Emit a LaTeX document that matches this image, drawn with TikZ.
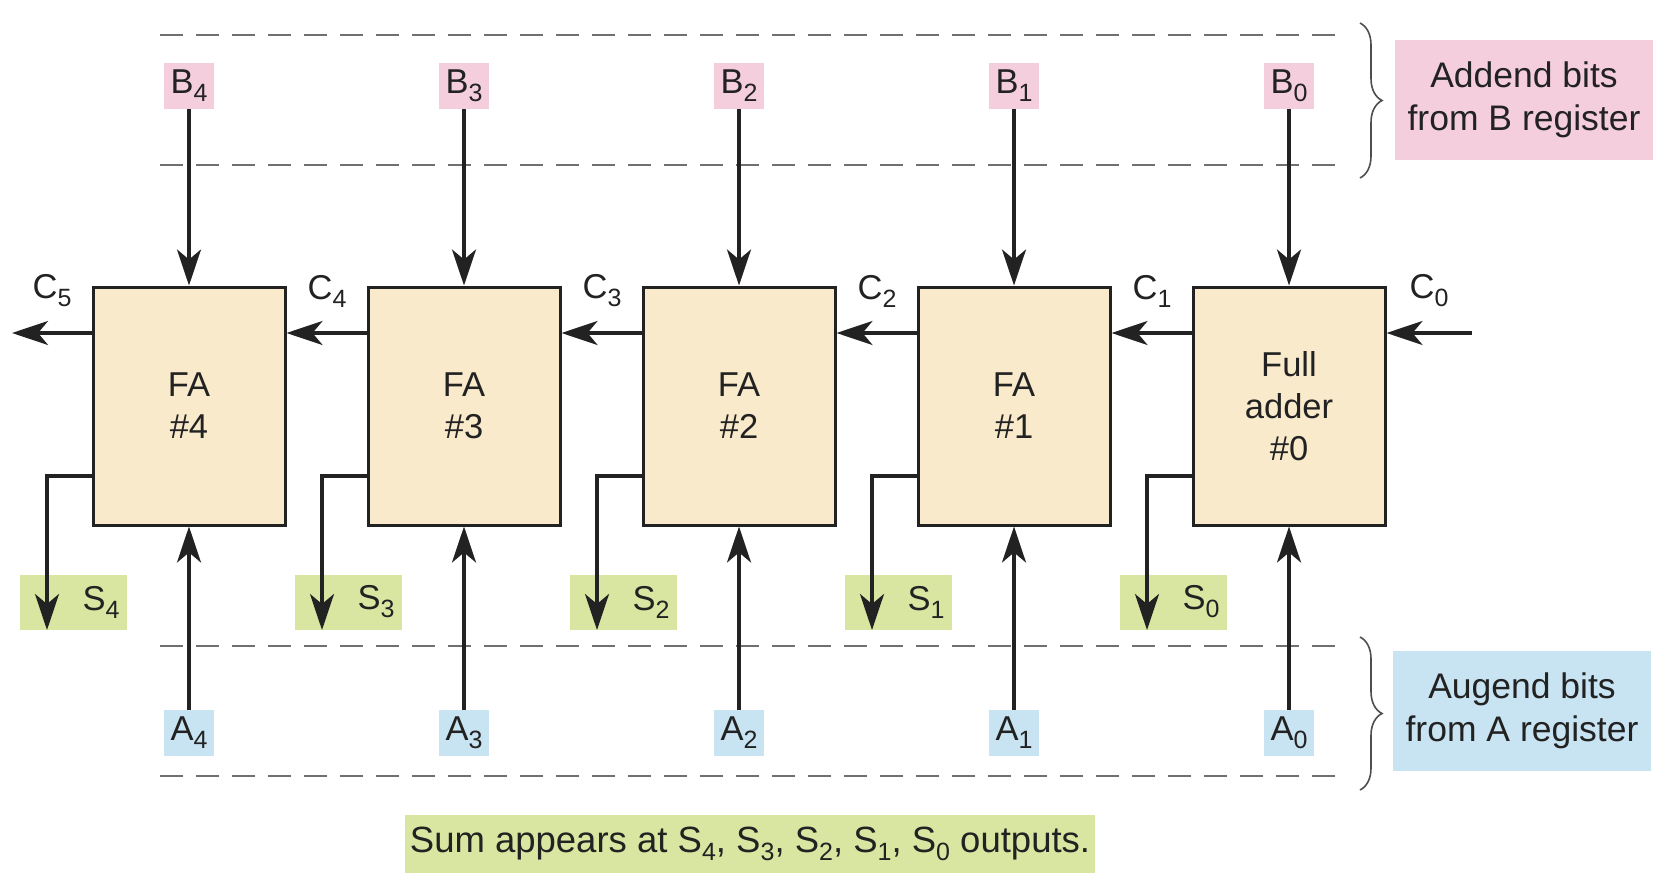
\documentclass[tikz,border=0pt]{standalone}
\usepackage{fontspec}
\setmainfont{Liberation Sans}
\usetikzlibrary{arrows.meta,decorations.pathreplacing,calc}
\definecolor{cream}{HTML}{F8EACB}
\definecolor{pinkbg}{HTML}{F5CEDD}
\definecolor{bluebg}{HTML}{C8E3F1}
\definecolor{greenbg}{HTML}{D8E6A2}
\definecolor{ink}{HTML}{222222}
\definecolor{dashgray}{HTML}{707070}
\newcommand\lowsub[1]{\raisebox{-8pt}{\fontsize{25}{25}\selectfont #1}}
\begin{document}
\begin{tikzpicture}[x=1pt,y=-1pt,
  font=\fontsize{34.5}{42}\selectfont, text=ink,
  fabox/.style={draw=ink, line width=3pt, fill=cream, minimum width=192pt, minimum height=238pt, align=center, inner sep=0pt},
  blab/.style={fill=pinkbg, minimum width=50pt, minimum height=46pt, inner sep=0pt},
  alab/.style={fill=bluebg, minimum width=50pt, minimum height=46pt, inner sep=0pt},
  slab/.style={fill=greenbg, minimum width=107pt, minimum height=55pt, inner sep=0pt},
  clab/.style={inner sep=0pt},
  infobox/.style={minimum width=258pt, minimum height=120pt, align=center, inner sep=0pt, font=\fontsize{35.5}{43}\selectfont},
  arr/.style={draw=ink, line width=3.5pt, -{Stealth[length=36pt,width=24pt,inset=10pt]}},
  dashline/.style={draw=dashgray, line width=2pt, dash pattern=on 23pt off 13pt},
  bracestyle/.style={draw=ink!80, line width=1.6pt, decorate, decoration={brace, amplitude=22pt, aspect=0.5}}
]
\useasboundingbox (0,0) rectangle (1670,888);

% dashed register boundaries
\draw[dashline] (160,35) -- (1345,35);
\draw[dashline] (160,165) -- (1345,165);
\draw[dashline] (160,646) -- (1345,646);
\draw[dashline] (160,776) -- (1345,776);

% full adder boxes
\foreach \i/\L in {4/93,3/368,2/643,1/918}{
  \node[fabox] (fa\i) at (\L+96,406) {FA\\\#\i};
}
\node[fabox] (fa0) at (1193+96,406) {Full\\adder\\\#0};

% labels
\foreach \i/\L in {4/93,3/368,2/643,1/918,0/1193}{
  \pgfmathtruncatemacro{\j}{\i+1}
  \node[blab] (b\i) at (\L+96,86) {B\lowsub{\i}};
  \node[alab] (a\i) at (\L+96,733) {A\lowsub{\i}};
  \node[slab] (s\i) at (\L-20,602) {\hspace*{56pt}S\lowsub{\i}};
  \node[clab] (c\j) at (\L-41,291) {C\lowsub{\j}};
  \coordinate (sout\i) at (\L-46,630);
}
\node[clab] (c0) at (1193+192+44,291) {C\lowsub{0}};
\coordinate (c5end) at (12,333);
\coordinate (c0start) at (1472,333);

% arrows
\foreach \i in {0,...,4}{
  \draw[arr] (b\i.south) -- (fa\i.north);
  \draw[arr] (a\i.north) -- (fa\i.south);
  \draw[arr] ([yshift=-70pt]fa\i.west) -| (sout\i);
}
\foreach \i/\j in {0/1,1/2,2/3,3/4}{
  \draw[arr] ([yshift=73pt]fa\i.west) -- ([yshift=73pt]fa\j.east);
}
\draw[arr] ([yshift=73pt]fa4.west) -- (c5end);
\draw[arr] (c0start) -- ([yshift=73pt]fa0.east);

% braces and explanations
\draw[bracestyle] (1360,23) -- (1360,178);
\draw[bracestyle] (1360,637) -- (1360,790);
\node[infobox, fill=pinkbg] (addend) at (1524,100) {Addend bits\\from B register};
\node[infobox, fill=bluebg] (augend) at (1522,711) {Augend bits\\from A register};
\node[fill=greenbg, minimum width=690pt, minimum height=58pt, inner sep=0pt, font=\fontsize{36.5}{44}\selectfont] (note) at (750,844)
  {Sum appears at S\lowsub{4}, S\lowsub{3}, S\lowsub{2}, S\lowsub{1}, S\lowsub{0} outputs.};
\end{tikzpicture}
\end{document}
